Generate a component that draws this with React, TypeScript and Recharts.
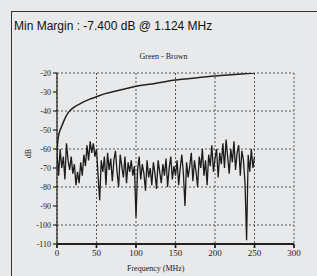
import { LineChart, Line, XAxis, YAxis, CartesianGrid } from 'recharts'

const freqTicks = [0, 50, 100, 150, 200, 250, 300]
const dbTicks = [-110, -100, -90, -80, -70, -60, -50, -40, -30, -20]

// measured crosstalk, 2 MHz steps from 0 to 250 MHz
const noiseDb = [
  -62, -74, -60, -70, -64, -76, -57, -66, -71, -64,
  -73, -68, -79, -72, -78, -67, -74, -63, -69, -58,
  -66, -56, -62, -57, -64, -60, -74, -87, -66, -72,
  -64, -79, -62, -71, -65, -77, -66, -61, -72, -80,
  -63, -69, -75, -64, -78, -67, -72, -66, -74, -69,
  -96, -71, -64, -76, -68, -73, -82, -66, -75, -70,
  -79, -67, -73, -81, -66, -72, -78, -68, -74, -65,
  -80, -70, -64, -76, -69, -74, -66, -79, -70, -63,
  -73, -90, -67, -75, -69, -62, -77, -66, -72, -80,
  -64, -70, -60, -74, -66, -79, -63, -69, -58, -72,
  -65, -60, -75, -62, -68, -57, -70, -55, -64, -73,
  -60, -67, -56, -71, -62, -58, -74, -61, -66, -78,
  -108, -63, -72, -60, -70, -64,
]

// limit line
const limitFreq = [0, 1, 2, 4, 6, 10, 14, 20, 30, 40, 50, 60, 80, 100, 120, 150, 175, 200, 225, 250]
const limitDb = [-62, -56, -53, -50, -48, -44, -41, -38.5, -36, -34, -32.5, -31, -29, -27, -25.8, -23.7, -22.6, -21.6, -20.8, -20]

const noiseData = noiseDb.map((v, i) => ({ f: i * 2, v }))
const limitData = limitFreq.map((f, i) => ({ f, v: limitDb[i] }))

const serif = '"Liberation Serif", "DejaVu Serif", serif'

export default function App() {
  return (
    <div
      style={{
        position: 'absolute',
        left: 0,
        top: 0,
        width: 317,
        height: 276,
        background: '#e8e9eb',
        overflow: 'hidden',
      }}
    >
      {/* frame */}
      <div style={{ position: 'absolute', left: 11, top: 11, width: 320, height: 280, borderLeft: '1.5px solid #333', borderTop: '1.5px solid #333' }} />
      <div
        style={{
          position: 'absolute',
          left: 14,
          top: 19,
          fontFamily: 'Arial, "Liberation Sans", sans-serif',
          fontSize: 12,
          color: '#111',
          whiteSpace: 'nowrap',
        }}
      >
        Min Margin : -7.400 dB @ 1.124 MHz
      </div>
      <div style={{ position: 'absolute', left: 0, width: 317, top: 52, textAlign: 'center', paddingLeft: 10, boxSizing: 'border-box', fontFamily: serif, fontSize: 8, color: '#222' }}>
        Green - Brown
      </div>
      <div style={{ position: 'absolute', left: 127, top: 264, fontFamily: serif, fontSize: 8, color: '#222', whiteSpace: 'nowrap' }}>
        Frequency (MHz)
      </div>
      <div
        style={{
          position: 'absolute',
          left: 20,
          top: 149,
          width: 16,
          textAlign: 'center',
          transform: 'rotate(-90deg)',
          fontFamily: serif,
          fontSize: 8,
          color: '#222',
        }}
      >
        dB
      </div>
      <div style={{ position: 'absolute', left: 0, top: 0 }}>
        <LineChart width={317} height={276} margin={{ top: 73, right: 23, bottom: 18, left: 27 }}>
          <CartesianGrid stroke="#444" strokeDasharray="2 2" strokeWidth={0.9} />
          <XAxis
            type="number"
            dataKey="f"
            domain={[0, 300]}
            ticks={freqTicks}
            allowDataOverflow
            height={14}
            tickSize={4}
            stroke="#222"
            strokeWidth={1.8}
            tick={{ fill: '#222', fontSize: 9, fontFamily: serif }}
          />
          <YAxis
            type="number"
            domain={[-110, -20]}
            ticks={dbTicks}
            allowDataOverflow
            width={30}
            tickSize={4}
            stroke="#222"
            strokeWidth={1.2}
            tick={{ fill: '#222', fontSize: 8, fontFamily: serif }}
          />
          <Line data={noiseData} dataKey="v" type="linear" stroke="#1c1c1c" strokeWidth={1.3} dot={false} isAnimationActive={false} />
          <Line data={limitData} dataKey="v" type="monotone" stroke="#222" strokeWidth={1.5} dot={false} isAnimationActive={false} />
        </LineChart>
      </div>
    </div>
  )
}
